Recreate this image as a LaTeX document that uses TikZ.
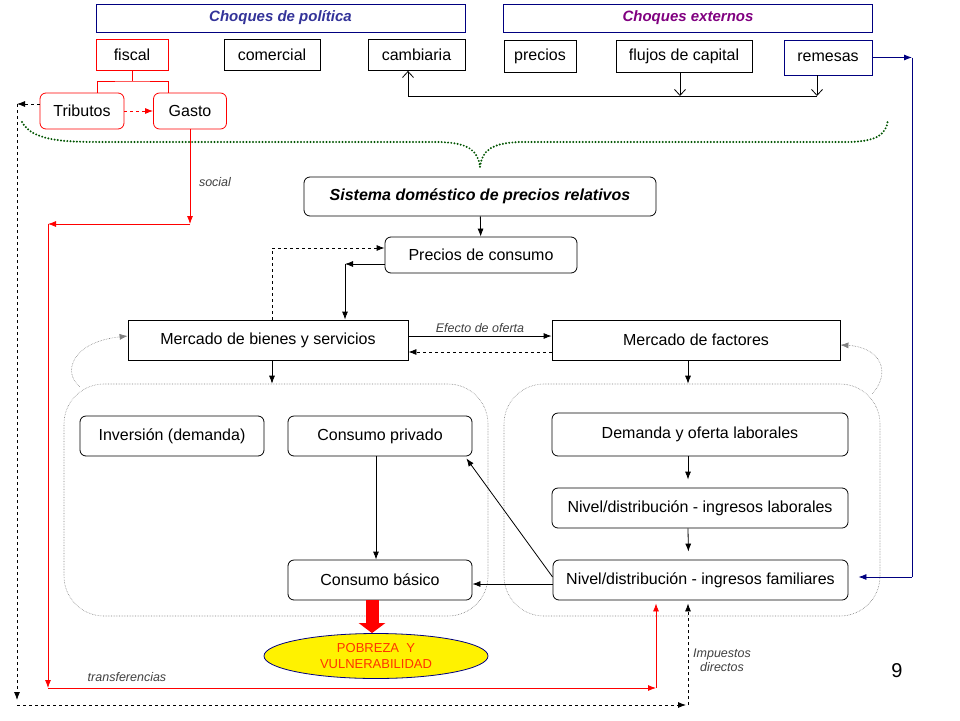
\documentclass[tikz,border=0pt]{standalone}
\usepackage{fontspec}
\setmainfont{Liberation Sans}
\usepackage{tikz}
\usetikzlibrary{positioning, shapes, shapes.geometric, arrows, arrows.meta, calc}
\definecolor{navyline}{rgb}{0.0, 0.0, 0.5}
\definecolor{chocpol}{rgb}{0.2, 0.2, 0.6}
\definecolor{chocext}{rgb}{0.5, 0.0, 0.5}
\definecolor{darkdot}{rgb}{0.0, 0.33, 0.0}
\definecolor{labgray}{rgb}{0.25, 0.25, 0.25}
\definecolor{pobred}{rgb}{1.0, 0.2, 0.0}

\begin{document}
\begin{tikzpicture}[x=1pt, y=-1pt, line width=0.8pt, >={Latex[length=8pt,width=6pt]},
	every node/.style={font=\fontsize{16}{18}\selectfont, inner sep=0pt}]
		\useasboundingbox (0,0) rectangle (960,720);
		
		\tikzstyle{choque}=[draw=navyline, minimum width=369pt, minimum height=28pt, font=\fontsize{15}{17}\selectfont\bfseries\itshape]
		\tikzstyle{canal}=[draw=black, minimum height=31pt, text=black]
		\tikzstyle{caja}=[draw=black, rounded corners=6pt, minimum height=40pt, text=black]
		\tikzstyle{mercado}=[draw=black, minimum height=40pt, minimum width=280pt, text=black]
		\tikzstyle{contenedor}=[draw=gray, densely dotted, line width=0.6pt, rounded corners=40pt, minimum height=232pt]
		\tikzstyle{etiq}=[font=\fontsize{12.5}{14}\selectfont\itshape, text=labgray, align=center]
		\tikzstyle{vflecha}=[-{Straight Barb[length=6pt,width=11pt]}]
		
		%% choques
		\node [choque, text=chocpol] (CP) at (280.5,18) {Choques de política};
		\node [choque, text=chocext] (CE) at (688,18) {Choques externos};
		
		\node [canal, draw=red, minimum width=72pt] (fiscal) at (132,55) {fiscal};
		\node [canal, minimum width=96pt] (comercial) at (272,55) {comercial};
		\node [canal, minimum width=97pt] (cambiaria) at (416.5,55) {cambiaria};
		\node [canal, minimum width=72pt, minimum height=32pt] (precios) at (540,56) {precios};
		\node [canal, minimum width=136pt, minimum height=32pt] (flujos) at (684,56) {flujos de capital};
		\node [canal, draw=navyline, minimum width=88pt, minimum height=35pt] (remesas) at (828,57.5) {remesas};
		
		\node [caja, draw=red, minimum width=84pt, minimum height=36pt] (Trib) at (82,111) {Tributos};
		\node [caja, draw=red, minimum width=73pt, minimum height=36pt] (Gasto) at (190,111) {Gasto};
		
		%% arbol fiscal
		\coordinate (fb) at (132,81);
		\draw[red] (fiscal.south) -- (fb);
		\draw[red] ([xshift=15pt]Trib.north) |- (fb) -| ([xshift=-22pt]Gasto.north);
		\draw[red, dashed, ->] (Trib) -- (Gasto);
		
		%% cambiaria - flujos - remesas
		\coordinate (hl) at (408,96);
		\coordinate (hr) at (817,96);
		\draw (hl) -- (hr);
		\draw[vflecha] (hl) -- (cambiaria.south -| hl);
		\draw[vflecha] ([xshift=-4pt]flujos.south) -- ([xshift=-4pt]flujos.south |- hl);
		\draw[vflecha] ([xshift=-11pt]remesas.south) -- (hr);
		
		%% llave punteada
		\draw[darkdot, line width=2.2pt, line cap=round, dash pattern=on 0pt off 3.2pt]
			(22,122) .. controls (32,140) and (60,142) .. (100,142) -- (440,142)
			.. controls (468,143) and (478,150) .. (480,167)
			.. controls (482,150) and (492,143) .. (520,142) -- (850,142)
			.. controls (878,141) and (886,134) .. (888,120);
		
		\node [caja, minimum width=352pt, minimum height=39pt, font=\fontsize{16}{18}\selectfont\bfseries\itshape] (SD) at (480,196.5) {Sistema doméstico de precios relativos};
		\node [caja, minimum width=192pt, minimum height=36pt] (PC) at (481,255) {Precios de consumo};
		\draw[->] (SD) -- (PC);
		
		\node [mercado] (MB) at (268,340) {Mercado de bienes y servicios};
		\node [mercado, minimum width=288pt] (MF) at (696,340) {Mercado de factores};
		
		\coordinate (pk) at (345,264);
		\draw[dashed, ->] ([xshift=4pt]MB.north) |- ([yshift=7pt]PC.west);
		\draw[->] ([yshift=-9pt]PC.west) -- (pk);
		\draw[->] (pk) -- (MB.north -| pk);
		
		\draw[->] ([yshift=4pt]MB.east) -- ([yshift=4pt]MF.west) node[midway, above=3pt, etiq] {Efecto de oferta};
		\draw[dashed, ->] ([yshift=-12pt]MF.west) -- ([yshift=-12pt]MB.east);
		
		%% contenedores
		\node [contenedor, minimum width=424pt] (CI) at (276,500) {};
		\node [contenedor, minimum width=376pt] (CD) at (692,500) {};
		
		\draw[->] ([xshift=4pt]MB.south) -- ([xshift=4pt]MB.south |- CI.north);
		\draw[->] ([xshift=-8pt]MF.south) -- ([xshift=-8pt]MF.south |- CD.north);
		
		\draw[gray, densely dotted, line width=0.6pt, ->] ([shift={(16pt,-3pt)}]CI.north west) .. controls (62,372) and (72,342) .. ([yshift=4pt]MB.west);
		\draw[gray, densely dotted, line width=0.6pt, ->] ([shift={(-8pt,-10pt)}]CD.north east) .. controls (892,372) and (880,347) .. ([yshift=-5pt]MF.east);
		
		%% lado izquierdo
		\node [caja, minimum width=184pt] (INV) at (172,436) {Inversión (demanda)};
		\node [caja, minimum width=184pt] (CPR) at (380,436) {Consumo privado};
		\node [caja, minimum width=184pt] (CB) at (380,580) {Consumo básico};
		\draw[->] ([xshift=-4pt]CPR.south) -- ([xshift=-4pt]CB.north);
		
		%% lado derecho
		\node [caja, minimum width=296pt, minimum height=43pt] (DOL) at (700,434.5) {Demanda y oferta laborales};
		\node [caja, minimum width=296pt] (NIL) at (700,508) {Nivel/distribución - ingresos laborales};
		\node [caja, minimum width=295pt] (FAM) at (700.5,580) {Nivel/distribución - ingresos familiares};
		\draw[->, shorten >=8pt] ([xshift=-12pt]DOL.south) -- ([xshift=-12pt]NIL.north);
		\draw[->, shorten >=8pt] ([xshift=-12pt]NIL.south) -- ([xshift=-12pt]FAM.north);
		
		\draw[->] ([yshift=3pt]FAM.west) -- ([shift={(-6pt,-2pt)}]CPR.south east);
		\draw[->] ([yshift=-4pt]FAM.west) -- ([yshift=-4pt]CB.east);
		
		%% pobreza
		\node [ellipse, draw=navyline, fill=yellow, minimum width=224pt, minimum height=45pt, text=pobred, align=center, font=\fontsize{13}{16}\selectfont] (POB) at (376,656) {POBREZA\ \ Y\\VULNERABILIDAD};
		\draw[red, line width=13pt, -{Triangle[length=10pt, width=26pt]}] ([xshift=-8pt]CB.south) -- ([xshift=-8pt]CB.south |- POB.north);
		
		%% gasto social y transferencias
		\coordinate (rs) at (190,224);
		\coordinate (rl) at (48,224);
		\coordinate (rb) at (48,688);
		\coordinate (rr) at (656,688);
		\draw[red, ->] (Gasto.south) -- (rs);
		\draw[red, ->] (rs) -- (rl);
		\draw[red, ->] (rl) -- (rb);
		\draw[red, ->] (rb) -- (rr);
		\draw[red, ->, shorten >=3pt] (rr) -- (FAM.south -| rr);
		\node [etiq] (lsoc) at (215,182) {social};
		\node [etiq] (ltra) at (127,677) {transferencias};
		
		%% impuestos directos
		\coordinate (tl) at (17,104);
		\coordinate (bl) at (17,700);
		\coordinate (bb) at (17,705);
		\coordinate (br) at (686,705);
		\coordinate (bu) at (688,705);
		\draw[dashed, ->] ([yshift=7pt]Trib.west) -- (tl);
		\draw[dashed, ->] (tl) -- (bl);
		\draw[dashed, ->] (bb) -- (br);
		\draw[dashed, ->, shorten >=3pt] (bu) -- (FAM.south -| bu);
		\node [etiq] (limp) at (722,660) {Impuestos\\directos};
		
		%% remesas
		\coordinate (nr) at (912,57.5);
		\coordinate (nb) at (912,577);
		\draw[navyline, ->] (remesas.east) -- (nr);
		\draw[navyline] (nr) -- (nb);
		\draw[navyline, ->] (nb) -- ([shift={(10pt,3pt)}]FAM.east);
		
		\node [font=\fontsize{20}{22}\selectfont] (pag) at (897,671) {9};
		
\end{tikzpicture}
\end{document}
